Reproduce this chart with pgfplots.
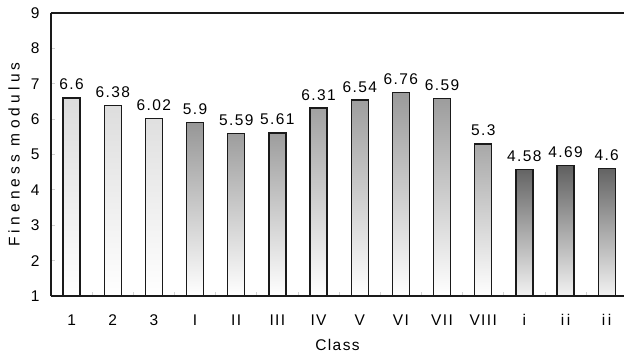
\documentclass[border=0pt]{standalone}
\usepackage{fontspec}
\setmainfont{Liberation Sans}[LetterSpace=9]
\newfontfamily\ylfont{Liberation Sans}[LetterSpace=27]
\usepackage{pgfplots}
\pgfplotsset{compat=1.18}
\definecolor{axc}{HTML}{1A1A1A}
\definecolor{gA}{HTML}{DCDCDC}
\definecolor{gB}{HTML}{979797}
\definecolor{gC}{HTML}{9A9A9A}
\definecolor{gE}{HTML}{A8A8A8}
\definecolor{gD}{HTML}{606060}
\begin{document}
\begin{tikzpicture}
\useasboundingbox (-51pt,-62pt) rectangle (573pt,296pt);
\begin{axis}[name=ax, at={(0,0)}, anchor=south west,
  scale only axis, width=573pt, height=283pt,
  xmin=-0.5, xmax=13.42, ymin=1, ymax=9,
  axis x line*=bottom, axis y line*=left,
  axis line style={line width=1.5pt, axc},
  /pgf/number format/assume math mode=true,
  tick label style={font=\fontsize{15.5}{17}\selectfont},
  xlabel style={font=\fontsize{15.5}{17}\selectfont},
  ylabel style={font=\fontsize{15.5}{17}\selectfont\ylfont},
  ytick={1,...,9},
  tick align=inside,
  major tick length=4pt, minor tick length=4pt,
  ytick style={gray!35, line width=0.8pt},
  xtick={0,...,13},
  xticklabels={1,2,3,I,II,III,IV,V,VI,VII,VIII,i,i\,i,i\,i},
  major x tick style={draw=none},
  minor xtick={0.5,1.5,...,12.5},
  minor x tick style={gray!35, line width=0.8pt},
  xticklabel style={anchor=base, yshift=-30pt},
  yticklabel style={xshift=-8pt},
  xlabel={Class},
  xlabel style={at={(axis description cs:0.5,0)}, anchor=base, yshift=-55pt},
  ylabel={Fineness modulus},
  ylabel style={at={(axis description cs:-0.0646,0.5)}, anchor=center},
  nodes near coords, point meta=explicit symbolic,
  every node near coord/.append style={font=\fontsize{15.5}{17}\selectfont, anchor=base, yshift=8pt, black},
  every axis plot/.append style={ybar, bar shift=0pt, bar width=17pt, draw=axc, line width=1.4pt},
]
\addplot[top color=gA, bottom color=white] coordinates {(0,6.6)[6.6] (1,6.38)[6.38] (2,6.02)[6.02]};
\addplot[top color=gB, bottom color=white] coordinates {(3,5.9)[5.9] (4,5.59)[5.59] (5,5.61)[5.61]};
\addplot[top color=gC, bottom color=white] coordinates {(6,6.31)[6.31] (7,6.54)[6.54] (8,6.76)[6.76] (9,6.59)[6.59]};
\addplot[top color=gE, bottom color=white] coordinates {(10,5.3)[5.3]};
\addplot[top color=gD, bottom color=gray!10] coordinates {(11,4.58)[4.58] (12,4.69)[4.69] (13,4.6)[4.6]};
\end{axis}
\draw[line width=1.5pt, axc] (ax.north west) -- (ax.north east);
\end{tikzpicture}
\end{document}
